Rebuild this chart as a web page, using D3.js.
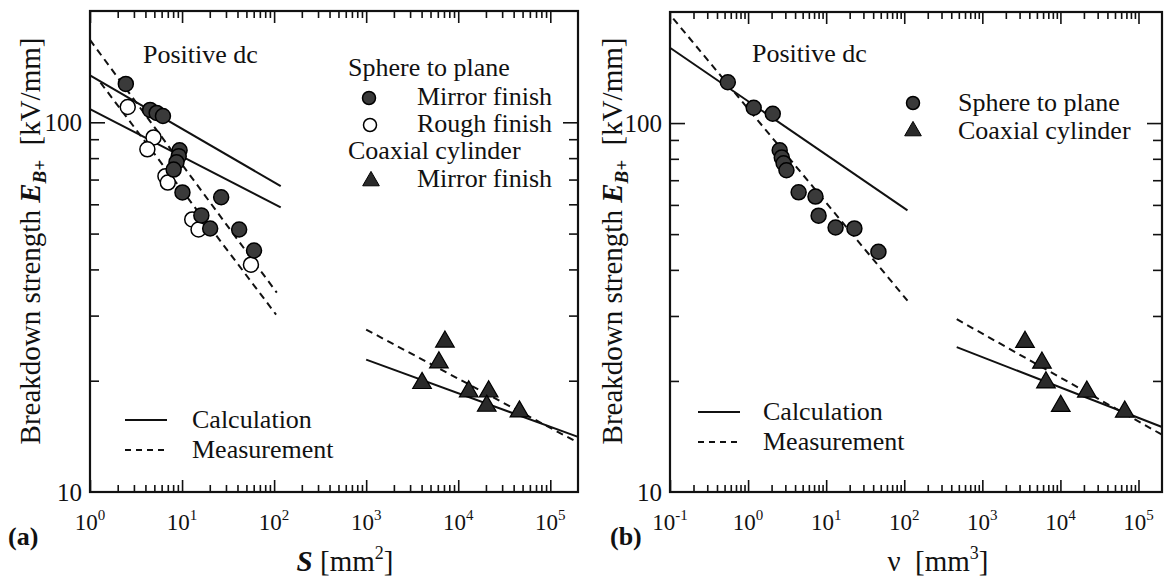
<!DOCTYPE html>
<html lang="en">
<head>
<meta charset="utf-8">
<title>Breakdown strength vs S and v</title>
<script src="https://d3js.org/d3.v7.min.js"></script>
<style>
  body { margin: 0; background: #fff; }
  text { font-family: "Liberation Serif", "Times New Roman", serif; fill: #111; }
</style>
</head>
<body>
<script>
// ---- data ----
// (a) electrode area S [mm2]
var sMirror = [2.45, 4.5, 5.3, 6.2, 9.4, 9.2, 8.7, 8.1, 10.1, 26.6, 16.2, 20.2, 41.7, 60.5];
var eMirror = [127, 108, 106, 104, 84, 81, 78, 74.5, 64.6, 62.7, 56, 51.6, 51.3, 45];
var sRough = [2.57, 4.9, 4.2, 6.6, 7.0, 12.9, 15.1, 56];
var eRough = [110, 91, 84.5, 71.5, 68.7, 54.6, 51.3, 41.2];
var sCyl = [4045, 6170, 7170, 13000, 21400, 20400, 46200];
var eCyl = [19.7, 22.4, 25.5, 18.7, 18.7, 17.1, 16.5];
// lines of (a): [x0, x1], [y0, y1]
var aCalc1 = {x: [1, 118], y: [134, 67.2]};
var aCalc2 = {x: [1, 118], y: [108.5, 58.9]};
var aMeas1 = {x: [1, 107], y: [167, 34.6]};
var aMeas2 = {x: [1.3, 105], y: [128, 30.2]};
var aCalcCyl = {x: [1000, 2e5], y: [22.8, 14.1]};
var aMeasCyl = {x: [1000, 2e5], y: [27.5, 13.6]};

// (b) stressed volume v [mm3]
var vSphere = [0.55, 1.18, 2.07, 2.54, 2.7, 2.85, 3.1, 4.44, 7.3, 8.0, 13.2, 23, 46.7];
var eSphere = [129, 110, 106, 84.4, 80.7, 77.8, 74.5, 64.9, 63.2, 56.1, 52.1, 51.8, 44.8];
var vCyl = [3520, 5800, 6530, 10100, 21800, 66700];
var eCylB = [25.5, 22.4, 19.8, 17.1, 18.7, 16.5];
var bCalc = {x: [0.1, 110], y: [160, 58]};
var bMeas = {x: [0.11, 110], y: [192, 33]};
var bCalcCyl = {x: [470, 2e5], y: [24.7, 15]};
var bMeasCyl = {x: [470, 2e5], y: [29.4, 14.3]};

var yTicks = [10, 100];
var aDecades = [0, 1, 2, 3, 4, 5];
var bDecades = [-1, 0, 1, 2, 3, 4, 5];

var W = 1164, H = 580;
var svg = d3.select("body").append("svg").attr("width", W).attr("height", H);

function minorTicks(lo, hi) {
  var t = [];
  for (var p = Math.floor(Math.log10(lo)); p <= Math.ceil(Math.log10(hi)); p++) {
    for (var k = 2; k <= 9; k++) {
      var v = k * Math.pow(10, p);
      if (v > lo && v < hi) t.push(v);
    }
  }
  return t;
}

function panel(opt) {
  var x = d3.scaleLog().domain(opt.xDomain).range(opt.xRange);
  var y = d3.scaleLog().domain([10, 200]).range(opt.yRange);
  var g = svg.append("g");
  var x0 = opt.xRange[0], x1 = opt.xRange[1], y0 = opt.yRange[0], y1 = opt.yRange[1];

  var majX = opt.decades.map(function(d) { return Math.pow(10, d); });
  var minX = minorTicks(opt.xDomain[0], opt.xDomain[1]);
  var minY = minorTicks(10, 200);

  function axisSet(axisFn, scale, ticks, size, tr) {
    g.append("g").attr("transform", tr)
      .call(axisFn(scale).tickValues(ticks).tickSize(size).tickFormat("").tickSizeOuter(0))
      .call(function(s) { s.select(".domain").remove(); s.selectAll("line").attr("stroke", "#111").attr("stroke-width", 1.6); });
  }
  axisSet(d3.axisBottom, x, majX, -12, "translate(0," + y0 + ")");
  axisSet(d3.axisBottom, x, minX, -7, "translate(0," + y0 + ")");
  axisSet(d3.axisTop, x, majX, -12, "translate(0," + y1 + ")");
  axisSet(d3.axisTop, x, minX, -7, "translate(0," + y1 + ")");
  axisSet(d3.axisLeft, y, [100], -15, "translate(" + x0 + ",0)");
  axisSet(d3.axisLeft, y, minY, -9, "translate(" + x0 + ",0)");
  axisSet(d3.axisRight, y, [100], -15, "translate(" + x1 + ",0)");
  axisSet(d3.axisRight, y, minY, -9, "translate(" + x1 + ",0)");

  g.append("rect").attr("x", x0).attr("y", y1).attr("width", x1 - x0).attr("height", y0 - y1)
    .attr("fill", "none").attr("stroke", "#111").attr("stroke-width", 2.2);

  // y tick labels
  yTicks.forEach(function(t) {
    g.append("text").attr("x", x0 - 8).attr("y", y(t) + 9).attr("text-anchor", "end")
      .attr("font-size", 25).text(t);
  });
  // x tick labels
  opt.decades.forEach(function(d) {
    var tx = g.append("text").attr("x", x(Math.pow(10, d))).attr("y", y0 + 38)
      .attr("text-anchor", "middle").attr("font-size", 23);
    tx.append("tspan").text("10");
    tx.append("tspan").attr("dy", -10).attr("font-size", 15).text(d);
  });

  // lines
  var line = d3.line().x(function(d) { return x(d[0]); }).y(function(d) { return y(d[1]); });
  opt.lines.forEach(function(l) {
    g.append("path").datum([[l.d.x[0], l.d.y[0]], [l.d.x[1], l.d.y[1]]])
      .attr("d", line).attr("fill", "none").attr("stroke", "#111").attr("stroke-width", 2)
      .attr("stroke-dasharray", l.dash ? "7,5" : null);
  });

  // points
  opt.points.forEach(function(p) {
    var pts = d3.zip(p.x, p.y);
    if (p.shape === "tri") {
      g.selectAll(null).data(pts).enter().append("path")
        .attr("d", d3.symbol().type(d3.symbolTriangle).size(150))
        .attr("transform", function(d) { return "translate(" + x(d[0]) + "," + y(d[1]) + ")"; })
        .attr("fill", "#2a2a2a").attr("stroke", "#000").attr("stroke-width", 1.2);
    } else {
      g.selectAll(null).data(pts).enter().append("circle")
        .attr("cx", function(d) { return x(d[0]); }).attr("cy", function(d) { return y(d[1]); })
        .attr("r", 7.5)
        .attr("fill", p.open ? "#fff" : "#3a3a3a").attr("stroke", "#000").attr("stroke-width", 1.5);
    }
  });

  return {x: x, y: y, g: g};
}

var A = panel({
  xDomain: [1, 2e5], xRange: [90, 578], yRange: [492, 11], decades: aDecades,
  lines: [{d: aCalc1}, {d: aCalc2}, {d: aMeas1, dash: true}, {d: aMeas2, dash: true},
          {d: aCalcCyl}, {d: aMeasCyl, dash: true}],
  points: [{x: sRough, y: eRough, open: true}, {x: sMirror, y: eMirror}, {x: sCyl, y: eCyl, shape: "tri"}]
});
var B = panel({
  xDomain: [0.1, 2e5], xRange: [670, 1162], yRange: [492, 12], decades: bDecades,
  lines: [{d: bCalc}, {d: bMeas, dash: true}, {d: bCalcCyl}, {d: bMeasCyl, dash: true}],
  points: [{x: vSphere, y: eSphere}, {x: vCyl, y: eCylB, shape: "tri"}]
});

// ---- annotation text ----
function txt(x, y, s, size, anchor) {
  return svg.append("text").attr("x", x).attr("y", y).attr("font-size", size || 26)
    .attr("text-anchor", anchor || "start").text(s);
}
function legCircle(cx, cy, open) {
  svg.append("circle").attr("cx", cx).attr("cy", cy).attr("r", 6.5)
    .attr("fill", open ? "#fff" : "#3a3a3a").attr("stroke", "#000").attr("stroke-width", 1.5);
}
function legTri(cx, cy) {
  svg.append("path").attr("d", d3.symbol().type(d3.symbolTriangle).size(120))
    .attr("transform", "translate(" + cx + "," + cy + ")").attr("fill", "#2a2a2a").attr("stroke", "#000");
}
function legLine(x0, x1, yy, dash) {
  svg.append("line").attr("x1", x0).attr("x2", x1).attr("y1", yy).attr("y2", yy)
    .attr("stroke", "#111").attr("stroke-width", 2).attr("stroke-dasharray", dash ? "6,5" : null);
}

txt(143, 63, "Positive dc");
txt(348, 76, "Sphere to plane");
legCircle(369, 98); txt(417, 105, "Mirror finish");
legCircle(370, 125, true); txt(417, 132, "Rough finish");
txt(348, 159, "Coaxial cylinder");
legTri(371, 181); txt(417, 187, "Mirror finish");
legLine(125, 167, 420); txt(192, 428, "Calculation");
legLine(125, 167, 450, true); txt(192, 458, "Measurement");

txt(752, 62, "Positive dc");
legCircle(913, 103); txt(958, 111, "Sphere to plane");
legTri(913, 131); txt(958, 139, "Coaxial cylinder");
legLine(698, 740, 412); txt(763, 420, "Calculation");
legLine(698, 740, 442, true); txt(763, 450, "Measurement");

// axis titles
function yTitle(xx) {
  var t = svg.append("text").attr("transform", "translate(" + xx + ",241) rotate(-90)")
    .attr("text-anchor", "middle").attr("font-size", 29);
  t.append("tspan").text("Breakdown strength\u00a0");
  t.append("tspan").attr("font-weight", "bold").attr("font-style", "italic").text("E");
  t.append("tspan").attr("font-weight", "bold").attr("font-style", "italic").attr("font-size", 19).attr("dy", 6).text("B+");
  t.append("tspan").attr("dy", -6).text("\u00a0\u00a0[kV/mm]");
}
yTitle(40);
yTitle(622);

var xa = svg.append("text").attr("x", 345).attr("y", 571).attr("text-anchor", "middle").attr("font-size", 29);
xa.append("tspan").attr("font-weight", "bold").attr("font-style", "italic").text("S");
xa.append("tspan").text("\u00a0[mm");
xa.append("tspan").attr("dy", -12).attr("font-size", 18).text("2");
xa.append("tspan").attr("dy", 12).text("]");

var xb = svg.append("text").attr("x", 938).attr("y", 571).attr("text-anchor", "middle").attr("font-size", 29);
xb.append("tspan").text("\u03bd\u00a0\u00a0[mm");
xb.append("tspan").attr("dy", -12).attr("font-size", 18).text("3");
xb.append("tspan").attr("dy", 12).text("]");

txt(8, 545, "(a)", 26).attr("font-weight", "bold");
txt(610, 545, "(b)", 26).attr("font-weight", "bold");
</script>
</body>
</html>
